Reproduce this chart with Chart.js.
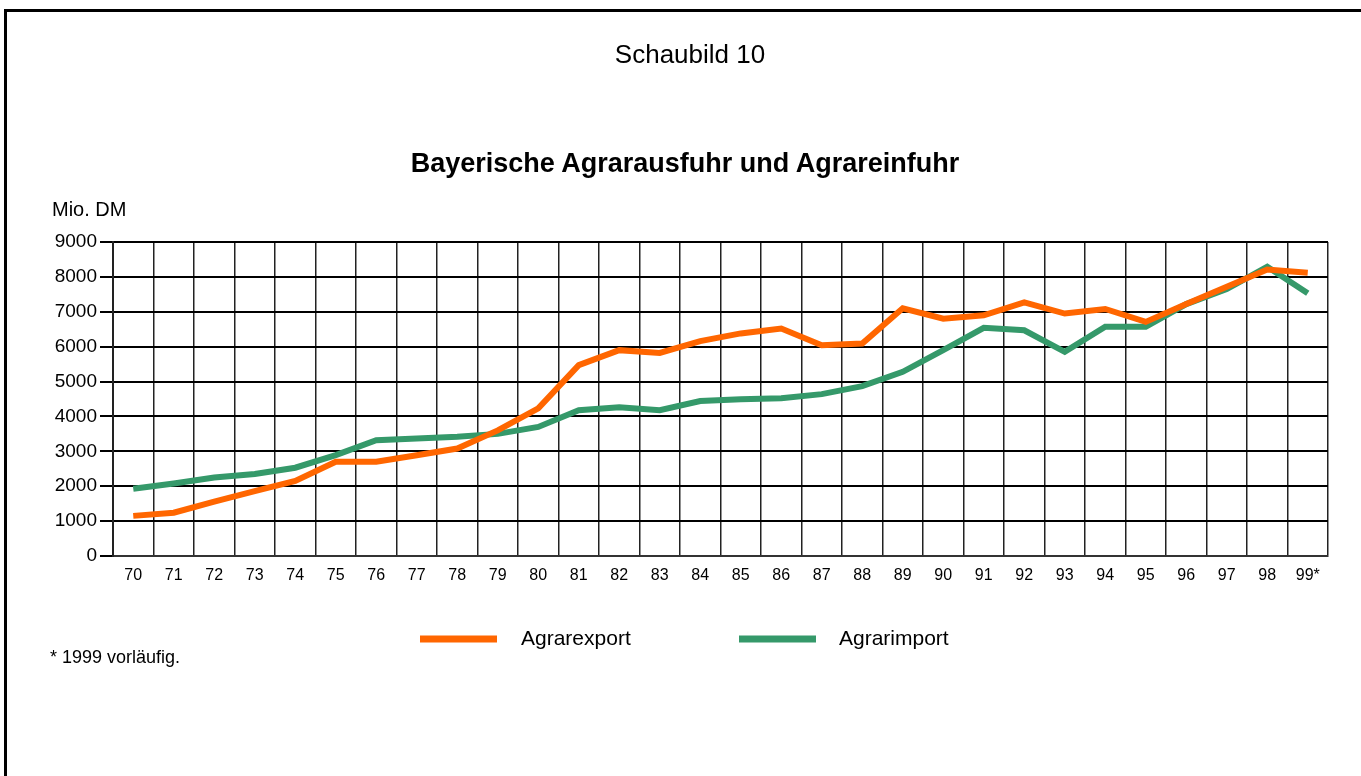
<!DOCTYPE html>
<html lang="de">
<head>
<meta charset="utf-8">
<title>Schaubild 10</title>
<script src="https://cdn.jsdelivr.net/npm/chart.js@4/dist/chart.umd.min.js"></script>
<style>
  body { margin: 0; background: #fff; font-family: "Liberation Sans", Arial, sans-serif; color: #000; }
  #page { position: relative; width: 1361px; height: 776px; overflow: hidden; }
  #frame { position: absolute; left: 4px; top: 9px; right: -10px; bottom: -10px; border-top: 3px solid #000; border-left: 3px solid #000; }
  #chartCanvas { position: absolute; left: 0; top: 0; }
  .txt { position: absolute; line-height: 1; white-space: nowrap; }
  .center { transform: translate(-50%, -50%); }
  .left { transform: translateY(-50%); }
  .legend-line { position: absolute; width: 77px; height: 7px; transform: translateY(-50%); }
</style>
</head>
<body>
<div id="page">
  <div id="frame"></div>
  <canvas id="chartCanvas" width="1361" height="776"></canvas>
  <div class="txt center" style="left:690px; top:54px; font-size:26px;">Schaubild 10</div>
  <div class="txt center" style="left:685px; top:163px; font-size:27px; font-weight:bold;">Bayerische Agrarausfuhr und Agrareinfuhr</div>
  <div class="txt left" style="left:52px; top:209px; font-size:20px;">Mio. DM</div>
  <div class="txt left" style="left:50px; top:657px; font-size:18px;">* 1999 vorläufig.</div>
  <div id="legend"></div>
</div>
<script>
(() => {
  const years = [
    "70", "71", "72", "73", "74", "75", "76", "77", "78", "79",
    "80", "81", "82", "83", "84", "85", "86", "87", "88", "89",
    "90", "91", "92", "93", "94", "95", "96", "97", "98", "99*",
  ];

  // Mio. DM
  const agrarexport = [
    1150, 1240, 1560, 1860, 2150, 2700, 2700, 2890, 3080, 3600,
    4230, 5470, 5900, 5820, 6160, 6380, 6520, 6040, 6090, 7100,
    6800, 6900, 7270, 6950, 7080, 6710, 7220, 7720, 8210, 8120,
  ];
  const agrarimport = [
    1930, 2080, 2250, 2350, 2530, 2890, 3320, 3370, 3420, 3500,
    3700, 4180, 4260, 4180, 4440, 4490, 4520, 4640, 4870, 5280,
    5900, 6540, 6470, 5850, 6570, 6570, 7220, 7650, 8290, 7530,
  ];

  const yTicks = [0, 1000, 2000, 3000, 4000, 5000, 6000, 7000, 8000, 9000];

  const COLORS = {
    export: "#ff6600",
    import: "#35996a",
  };

  const FONT = "'Liberation Sans', Arial, sans-serif";

  function makeDataset(label, data, color) {
    return {
      label,
      data,
      borderColor: color,
      backgroundColor: color,
      borderWidth: 6,
      pointRadius: 0,
      tension: 0,
    };
  }

  function buildLegend(datasets) {
    const el = document.getElementById("legend");
    const spots = [
      { line: 420, text: 521 },
      { line: 739, text: 839 },
    ];
    datasets.forEach((ds, i) => {
      const line = document.createElement("div");
      line.className = "legend-line";
      line.style.left = spots[i].line + "px";
      line.style.top = "639px";
      line.style.background = ds.borderColor;
      el.appendChild(line);

      const txt = document.createElement("div");
      txt.className = "txt left";
      txt.style.left = spots[i].text + "px";
      txt.style.top = "637px";
      txt.style.fontSize = "21px";
      txt.textContent = ds.label;
      el.appendChild(txt);
    });
  }

  function render() {
    const datasets = [
      makeDataset("Agrarexport", agrarexport, COLORS.export),
      makeDataset("Agrarimport", agrarimport, COLORS.import),
    ];

    const ctx = document.getElementById("chartCanvas").getContext("2d");
    new Chart(ctx, {
      type: "line",
      data: { labels: years, datasets },
      options: {
        responsive: false,
        animation: false,
        layout: {
          padding: { left: 0, top: 242, right: 33, bottom: 180 },
        },
        plugins: {
          legend: { display: false },
          title: { display: false },
          tooltip: { enabled: false },
        },
        scales: {
          x: {
            type: "category",
            offset: true,
            grid: {
              offset: true,
              color: "#222",
              lineWidth: 1.5,
              drawTicks: false,
            },
            border: { color: "#333", width: 2 },
            ticks: {
              color: "#000",
              font: { family: FONT, size: 16 },
              padding: 10,
              maxRotation: 0,
              autoSkip: false,
            },
            afterFit: (axis) => {
              axis.height = 40;
            },
          },
          y: {
            min: 0,
            max: 9000,
            afterBuildTicks: (axis) => {
              axis.ticks = yTicks.map((v) => ({ value: v }));
            },
            grid: {
              color: "#000",
              lineWidth: 2,
              tickLength: 13,
            },
            border: { color: "#222", width: 2 },
            ticks: {
              color: "#000",
              font: { family: FONT, size: 19 },
              padding: 3,
              callback: (value) => String(value),
            },
            afterFit: (axis) => {
              axis.width = 113;
            },
          },
        },
      },
    });

    buildLegend(datasets);
  }

  render();
})();
</script>
</body>
</html>
